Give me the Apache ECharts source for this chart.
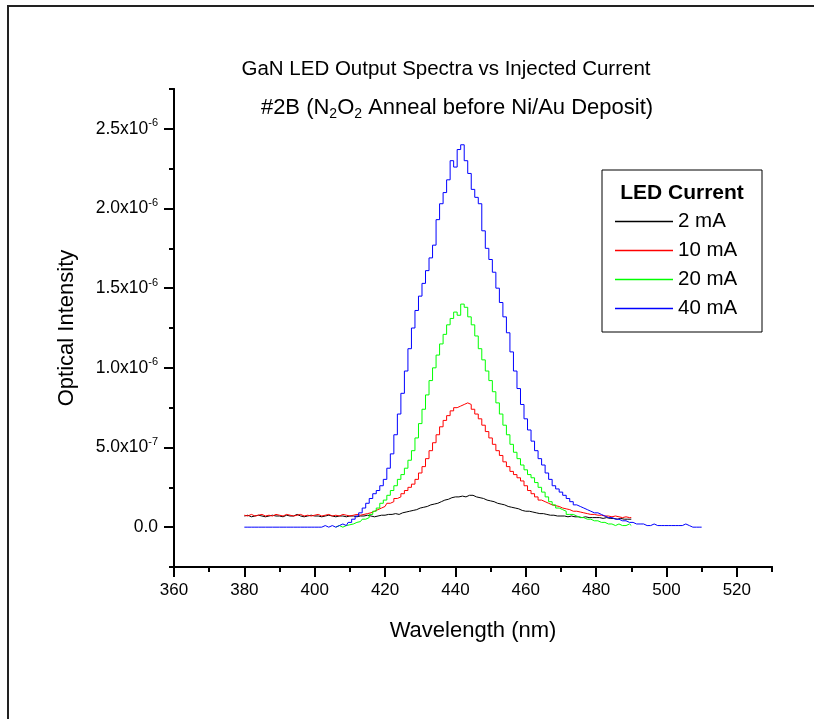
<!DOCTYPE html>
<html>
<head>
<meta charset="utf-8">
<script src="https://cdn.jsdelivr.net/npm/echarts@6/dist/echarts.min.js"></script>
<style>
html,body{margin:0;padding:0;background:#fff;}
#chart{width:814px;height:719px;}
</style>
</head>
<body>
<div id="chart"></div>
<script>
// Wavelength grid (nm)
const wavelengthStart = 380;
const wavelengthStep = 1;

// Optical intensity values in units of 1e-6
const current2mA = [
  0.07,0.075,0.065,0.07,0.075,0.07,0.065,0.07,0.075,0.07,
  0.07,0.065,0.075,0.07,0.07,0.08,0.07,0.065,0.07,0.075,
  0.07,0.07,0.065,0.07,0.075,0.07,0.065,0.07,0.07,0.065,
  0.07,0.07,0.065,0.07,0.07,0.075,0.07,0.065,0.07,0.075,
  0.075,0.08,0.08,0.085,0.08,0.09,0.095,0.10,0.105,0.11,
  0.12,0.125,0.13,0.14,0.145,0.15,0.16,0.17,0.175,0.185,
  0.19,0.19,0.195,0.19,0.20,0.20,0.19,0.185,0.18,0.17,
  0.165,0.16,0.15,0.145,0.14,0.13,0.125,0.12,0.115,0.105,
  0.10,0.10,0.095,0.09,0.085,0.085,0.08,0.075,0.075,0.07,
  0.07,0.07,0.065,0.07,0.065,0.065,0.06,0.065,0.06,0.06,
  0.06,0.06,0.055,0.06,0.055,0.055,0.05,0.055,0.05,0.05,0.05
];
const current10mA = [
  0.075,0.07,0.08,0.07,0.075,0.08,0.07,0.075,0.07,0.08,
  0.075,0.07,0.08,0.075,0.07,0.075,0.08,0.07,0.075,0.07,
  0.075,0.08,0.07,0.075,0.08,0.07,0.075,0.07,0.08,0.075,
  0.07,0.075,0.08,0.075,0.08,0.085,0.09,0.10,0.11,0.12,
  0.13,0.15,0.16,0.18,0.19,0.21,0.23,0.25,0.27,0.30,
  0.34,0.38,0.43,0.48,0.53,0.58,0.63,0.67,0.70,0.73,
  0.75,0.76,0.77,0.78,0.77,0.74,0.71,0.68,0.64,0.60,
  0.56,0.52,0.48,0.45,0.41,0.38,0.35,0.33,0.31,0.29,
  0.26,0.23,0.21,0.19,0.17,0.16,0.15,0.14,0.135,0.13,
  0.12,0.115,0.11,0.10,0.10,0.095,0.09,0.085,0.08,0.08,
  0.075,0.075,0.07,0.07,0.065,0.07,0.065,0.06,0.065,0.06,0.06
];
const current20mA = [
  null,null,null,null,null,null,null,null,null,null,
  null,null,null,null,null,null,null,null,null,null,
  null,null,null,null,null,null,0.0,0.01,0.0,0.01,
  0.015,0.02,0.03,0.035,0.05,0.06,0.08,0.10,0.12,0.15,
  0.17,0.20,0.23,0.26,0.30,0.33,0.37,0.42,0.48,0.56,
  0.65,0.74,0.83,0.92,1.00,1.08,1.15,1.21,1.27,1.31,
  1.35,1.33,1.40,1.38,1.32,1.27,1.20,1.12,1.05,0.98,
  0.92,0.85,0.78,0.71,0.64,0.58,0.52,0.47,0.43,0.39,
  0.36,0.33,0.31,0.28,0.25,0.22,0.19,0.16,0.14,0.12,
  0.11,0.10,0.08,0.08,0.07,0.06,0.06,0.05,0.05,0.04,
  0.04,0.03,0.03,0.02,0.02,0.01,0.02,0.01,0.01,0.02,0.01
];
const current40mA = [
  0,0,0,0,0,0,0,0,0,0,
  0,0,0,0,0,0,0,0,0,0,
  0,0,0,0.01,0.0,0.01,0.0,0.01,0.02,0.01,
  0.03,0.05,0.07,0.09,0.12,0.15,0.18,0.21,0.23,0.26,
  0.30,0.37,0.46,0.58,0.71,0.84,0.98,1.12,1.25,1.36,
  1.45,1.53,1.61,1.69,1.77,1.93,2.03,2.10,2.18,2.30,
  2.26,2.37,2.40,2.30,2.22,2.12,2.07,2.03,1.86,1.75,
  1.68,1.60,1.50,1.41,1.32,1.22,1.10,0.98,0.87,0.77,
  0.68,0.61,0.54,0.48,0.43,0.39,0.34,0.30,0.26,0.24,
  0.22,0.20,0.18,0.16,0.14,0.13,0.12,0.11,0.10,0.09,
  0.09,0.08,0.07,0.06,0.06,0.05,0.05,0.04,0.04,0.03,
  0.03,0.02,0.02,0.02,0.01,0.01,0.02,0.01,0.01,0.01,
  0.01,0.01,0.01,0.01,0.01,0.02,0.01,0,0,0,0
];

const seriesNames = ['2 mA', '10 mA', '20 mA', '40 mA'];

// Tick values and labels
const xMajorTicks = [360, 380, 400, 420, 440, 460, 480, 500, 520];
const xMinorTicks = [370, 390, 410, 430, 450, 470, 490, 510, 530];
const yMajorTicks = [0, 5e-7, 1e-6, 1.5e-6, 2e-6, 2.5e-6];
const yMajorMantissa = ['0.0', '5.0', '1.0', '1.5', '2.0', '2.5'];
const yMajorExponent = ['', '-7', '-6', '-6', '-6', '-6'];
const yMinorTicks = [-2.5e-7, 2.5e-7, 7.5e-7, 1.25e-6, 1.75e-6, 2.25e-6, 2.75e-6];

function toPoints(values) {
  const pts = [];
  values.forEach(function (v, i) {
    if (v !== null) pts.push([wavelengthStart + i * wavelengthStep, v * 1e-6]);
  });
  return pts;
}

const FONT = '"Liberation Sans", Arial, sans-serif';
const chart = echarts.init(document.getElementById('chart'), null, {renderer: 'canvas'});

function yLabel(val) {
  let idx = -1;
  yMajorTicks.forEach(function (t, i) { if (Math.abs(t - val) < 1e-9) idx = i; });
  if (idx < 0) return '';
  if (yMajorExponent[idx] === '') return '{m|' + yMajorMantissa[idx] + '}';
  return '{m|' + yMajorMantissa[idx] + 'x10}{e|' + yMajorExponent[idx] + '}';
}

const axisCommon = {
  type: 'value',
  axisLine: {show: true, onZero: false, lineStyle: {color: '#000', width: 2}},
  splitLine: {show: false}
};

const option = {
  animation: false,
  backgroundColor: '#fff',
  grid: {left: 174, right: 42, top: 89, bottom: 152, containLabel: false},
  xAxis: [
    Object.assign({}, axisCommon, {
      min: 360, max: 530,
      name: 'Wavelength (nm)', nameLocation: 'middle', nameGap: 53,
      nameTextStyle: {fontFamily: FONT, fontSize: 22, color: '#000'},
      axisTick: {show: true, length: 10, lineStyle: {color: '#000', width: 2}, customValues: xMajorTicks},
      axisLabel: {show: true, margin: 15, fontFamily: FONT, fontSize: 17, color: '#000', customValues: xMajorTicks}
    }),
    Object.assign({}, axisCommon, {
      min: 360, max: 530, position: 'bottom',
      axisTick: {show: true, length: 5, lineStyle: {color: '#000', width: 2}, customValues: xMinorTicks},
      axisLabel: {show: false}
    })
  ],
  yAxis: [
    Object.assign({}, axisCommon, {
      min: -2.5e-7, max: 2.75e-6,
      name: 'Optical Intensity', nameLocation: 'middle', nameGap: 96, nameRotate: 90,
      nameTextStyle: {fontFamily: FONT, fontSize: 22, color: '#000'},
      axisTick: {show: true, length: 10, lineStyle: {color: '#000', width: 2}, customValues: yMajorTicks},
      axisLabel: {
        show: true, margin: 16, customValues: yMajorTicks,
        formatter: yLabel,
        rich: {
          m: {fontFamily: FONT, fontSize: 17.5, color: '#000', lineHeight: 22},
          e: {fontFamily: FONT, fontSize: 11, color: '#000', lineHeight: 8, verticalAlign: 'top'}
        }
      }
    }),
    Object.assign({}, axisCommon, {
      min: -2.5e-7, max: 2.75e-6, position: 'left',
      axisTick: {show: true, length: 5, lineStyle: {color: '#000', width: 2}, customValues: yMinorTicks},
      axisLabel: {show: false}
    })
  ],
  legend: {
    orient: 'vertical', left: 610, top: 206,
    data: seriesNames,
    icon: 'rect', itemWidth: 58, itemHeight: 1.5, itemGap: 8, itemStyle: {borderWidth: 0},
    textStyle: {fontFamily: FONT, fontSize: 20.5, color: '#000', lineHeight: 20}
  },
  graphic: [
    {type: 'rect', shape: {x: 8, y: 6, width: 900, height: 800}, style: {fill: 'none', stroke: '#222', lineWidth: 2}, silent: true},
    {type: 'rect', shape: {x: 602, y: 170, width: 160, height: 162}, style: {fill: '#fff', stroke: '#000', lineWidth: 1}, z: -1, silent: true},
    {type: 'text', x: 446, y: 69, style: {text: 'GaN LED Output Spectra vs Injected Current', fontFamily: FONT, fontSize: 20.5, fill: '#000', align: 'center', verticalAlign: 'middle'}},
    {type: 'text', x: 457, y: 108, style: {
      text: '{a|#2B (N}{s|2}{a|O}{s|2}{a| Anneal before Ni/Au Deposit)}',
      align: 'center', verticalAlign: 'middle',
      rich: {
        a: {fontFamily: FONT, fontSize: 22, fill: '#000', lineHeight: 26},
        s: {fontFamily: FONT, fontSize: 14, fill: '#000', lineHeight: 8, verticalAlign: 'bottom'}
      }
    }},
    {type: 'text', x: 682, y: 193, style: {text: 'LED Current', fontFamily: FONT, fontSize: 21, fontWeight: 'bold', fill: '#000', align: 'center', verticalAlign: 'middle'}}
  ],
  series: [
    {name: seriesNames[0], type: 'line', step: 'middle', showSymbol: false, color: '#000000', lineStyle: {width: 1}, data: toPoints(current2mA)},
    {name: seriesNames[1], type: 'line', step: 'middle', showSymbol: false, color: '#ff0000', lineStyle: {width: 1}, data: toPoints(current10mA)},
    {name: seriesNames[2], type: 'line', step: 'middle', showSymbol: false, color: '#00ff00', lineStyle: {width: 1}, data: toPoints(current20mA)},
    {name: seriesNames[3], type: 'line', step: 'middle', showSymbol: false, color: '#0000ff', lineStyle: {width: 1}, data: toPoints(current40mA)}
  ]
};
chart.setOption(option);
</script>
</body>
</html>
